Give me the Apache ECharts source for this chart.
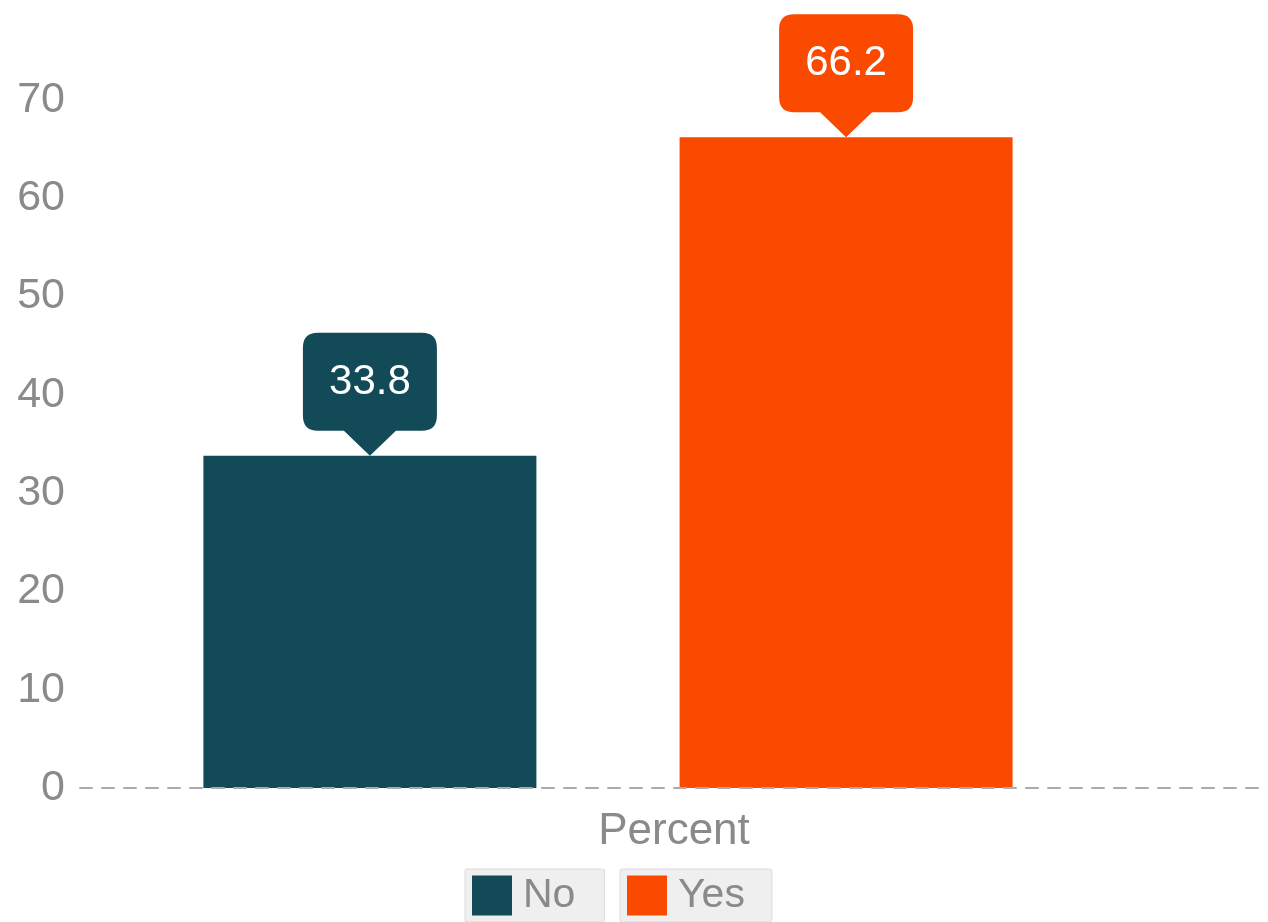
<!DOCTYPE html>
<html>
<head>
<meta charset="utf-8">
<script src="https://cdn.jsdelivr.net/npm/echarts@6/dist/echarts.min.js"></script>
<style>
  html, body { margin: 0; padding: 0; background: #ffffff; }
  #chart { width: 1268px; height: 922px; }
</style>
</head>
<body>
<div id="chart"></div>
<script>
// Survey answer shares, in percent
const categories = ['Percent'];
const seriesNames = ['No', 'Yes'];
const noValues = [33.8];
const yesValues = [66.2];
const yTicks = { min: 0, max: 70, interval: 10 };

const colors = { No: '#134a58', Yes: '#f94a00' };
const grey = '#8a8a8a';
const font = 'Liberation Sans, Arial, sans-serif';

// speech-bubble marker: rounded box with a pointer at the bottom centre
const bubble = 'path://M15,0 H119 Q134,0 134,15 V83 Q134,98 119,98 H93 L67,123 L41,98 H15 Q0,98 0,83 V15 Q0,0 15,0 Z';

function bubbleMark(color) {
  return {
    symbol: bubble,
    symbolSize: [134, 123],
    symbolOffset: [0, '-50%'],
    itemStyle: { color: color },
    label: {
      show: true,
      position: 'inside',
      offset: [0, -12],
      formatter: '{c}',
      color: '#ffffff',
      fontSize: 42,
      fontFamily: font
    },
    data: [{ type: 'max' }]
  };
}

function legendFor(name, left, rightPad) {
  return {
    data: [name],
    left: left,
    top: 869,
    orient: 'horizontal',
    icon: 'rect',
    itemWidth: 40,
    itemHeight: 40,
    itemGap: 0,
    backgroundColor: '#efefef',
    borderColor: '#dcdcdc',
    borderWidth: 1,
    borderRadius: 2,
    padding: [6, rightPad, 6, 7],
    selectedMode: false,
    textStyle: { color: grey, fontSize: 41, fontFamily: font, padding: [0, 0, 0, 6] }
  };
}

const chart = echarts.init(document.getElementById('chart'), null, { renderer: 'canvas' });
chart.setOption({
  animation: false,
  backgroundColor: '#ffffff',
  textStyle: { fontFamily: font },
  grid: [
    { left: 80, right: 132, top: 100, bottom: 134 },
    { left: 80, right: 0, top: 100, bottom: 134 }
  ],
  legend: [legendFor('No', 465, 29), legendFor('Yes', 620, 27)],
  xAxis: [
    { type: 'category', gridIndex: 0, data: categories, show: false },
    {
      type: 'category', gridIndex: 1, data: categories, z: 5,
      axisLine: { show: true, lineStyle: { color: '#ababab', width: 2, type: [12, 10] } },
      axisTick: { show: false },
      axisLabel: { color: grey, fontSize: 44, fontFamily: font, margin: 22 }
    }
  ],
  yAxis: [
    {
      type: 'value', gridIndex: 0,
      min: yTicks.min, max: yTicks.max, interval: yTicks.interval,
      axisLine: { show: false }, axisTick: { show: false }, splitLine: { show: false },
      axisLabel: { color: grey, fontSize: 43, fontFamily: font, margin: 15 }
    },
    {
      type: 'value', gridIndex: 1, show: false,
      min: yTicks.min, max: yTicks.max, interval: yTicks.interval
    }
  ],
  series: [
    {
      name: seriesNames[0], type: 'bar', xAxisIndex: 0, yAxisIndex: 0,
      data: noValues, barWidth: 333, barGap: '43%',
      itemStyle: { color: colors.No },
      markPoint: bubbleMark(colors.No)
    },
    {
      name: seriesNames[1], type: 'bar', xAxisIndex: 0, yAxisIndex: 0,
      data: yesValues, barWidth: 333, barGap: '43%',
      itemStyle: { color: colors.Yes },
      markPoint: bubbleMark(colors.Yes)
    }
  ]
});
</script>
</body>
</html>
